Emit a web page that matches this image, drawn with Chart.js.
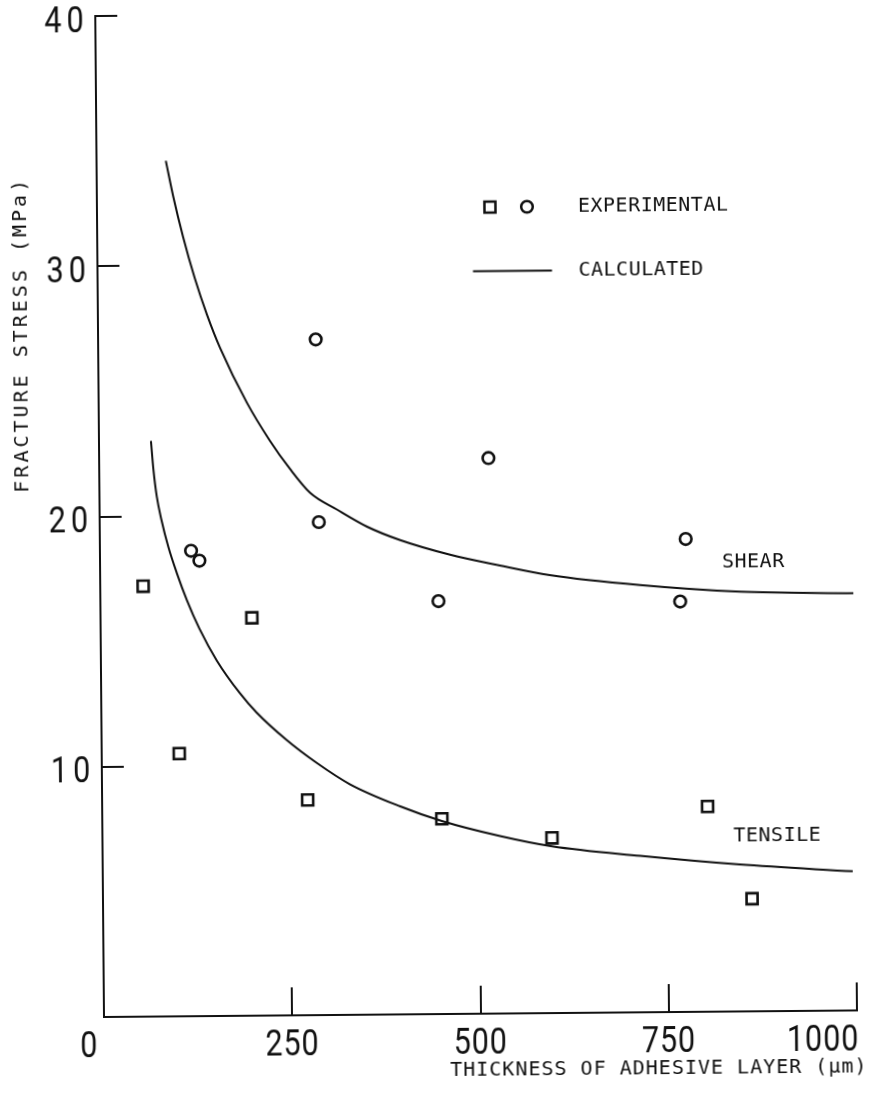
<!DOCTYPE html>
<html><head><meta charset="utf-8">
<script src="https://cdn.jsdelivr.net/npm/chart.js@4.4.1/dist/chart.umd.min.js"></script>
<style>
html,body{margin:0;padding:0;background:#fff;overflow:hidden}
#wrap{position:absolute;left:0;top:0;width:881px;height:1096px;transform-origin:104px 1017px;transform:rotate(-0.5deg);background:#fff}
</style></head><body>
<div id="wrap"><canvas id="c"></canvas></div>
<script>
// ---- data ----
const xTicks = [0, 250, 500, 750, 1000];
const yTicks = [10, 20, 30, 40];

const shearThickness = [121, 132, 289, 291, 449, 517, 770, 778];
const shearStress    = [18.6, 18.2, 27.0, 19.7, 16.5, 22.2, 16.4, 18.9];

const tensileThickness = [57, 103, 201, 273, 451, 597, 804, 862];
const tensileStress    = [17.2, 10.5, 15.9, 8.6, 7.8, 7.0, 8.2, 4.5];

const shearCalcThickness = [92, 101.5, 114, 129, 145, 162, 197, 227, 253, 280, 315, 355, 399, 465, 531, 597, 717, 850, 1000];
const shearCalcStress    = [34.19, 32.76, 31.15, 29.5, 28.02, 26.69, 24.49, 22.97, 21.85, 20.87, 20.2, 19.5, 18.95, 18.35, 17.9, 17.5, 17.07, 16.77, 16.67];

const tensileCalcThickness = [69, 72, 76, 82, 91, 102, 115, 131, 154, 184, 206, 246, 285, 329, 396, 451, 528, 597, 714, 846, 996];
const tensileCalcStress    = [23.0, 21.85, 20.8, 19.85, 18.75, 17.7, 16.62, 15.5, 14.2, 12.9, 12.12, 11.0, 10.09, 9.22, 8.31, 7.71, 7.09, 6.66, 6.25, 5.87, 5.56];

const xTitle = 'THICKNESS OF ADHESIVE LAYER (\u03bcm)';
const yTitle = 'FRACTURE STRESS (MPa)';
const legendLabels = ['EXPERIMENTAL', 'CALCULATED'];
const curveLabels = ['SHEAR', 'TENSILE'];

// ---- build ----
const pts = (xs, ys) => xs.map((x, i) => ({x, y: ys[i]}));
const INK = '#111';
const monoFont = '"DejaVu Sans Mono", monospace';
const numFont = '400 36px Roboto, "DejaVu Sans", sans-serif';

function drawNum(ctx, text, x, y, align) {
  ctx.save();
  ctx.translate(x, y);
  ctx.scale(0.85, 1);
  ctx.textAlign = align;
  ctx.fillText(text, 0, 0);
  ctx.restore();
}

const overlay = {
  id: 'overlay',
  afterDraw(chart) {
    const ctx = chart.ctx, xs = chart.scales.x, ys = chart.scales.y;
    const ca = chart.chartArea;
    ctx.save();
    ctx.fillStyle = INK;
    ctx.strokeStyle = INK;
    // y tick labels
    ctx.font = numFont;
    ctx.textBaseline = 'alphabetic';
    ctx.letterSpacing = '6px';
    yTicks.forEach(v => drawNum(ctx, String(v), ca.left - 6.5, ys.getPixelForValue(v) + 15.5, 'right'));
    // x tick labels
    ctx.letterSpacing = '1px';
    xTicks.forEach((v, i) => {
      const px = xs.getPixelForValue(v);
      const by = ca.bottom + 40;
      if (i === 0) drawNum(ctx, String(v), px - 6, by, 'right');
      else if (i === xTicks.length - 1) drawNum(ctx, String(v), px + 2, by, 'right');
      else drawNum(ctx, String(v), px, by, 'center');
    });
    // axis titles
    ctx.font = '20px ' + monoFont;
    ctx.textBaseline = 'middle';
    ctx.letterSpacing = '1px';
    ctx.textAlign = 'right';
    ctx.fillText(xTitle, ca.right + 10, ca.bottom + 57);
    ctx.save();
    ctx.translate(28, 334);
    ctx.rotate(-Math.PI / 2);
    ctx.letterSpacing = '3px';
    ctx.textAlign = 'center';
    ctx.fillText(yTitle, 0, 0);
    ctx.restore();
    // legend
    ctx.letterSpacing = '0.5px';
    ctx.lineWidth = 2.5;
    ctx.strokeRect(497 - 5.5, 210.5 - 5.5, 11, 11);
    ctx.beginPath(); ctx.arc(534, 210.5, 5.8, 0, Math.PI * 2); ctx.stroke();
    ctx.textAlign = 'left';
    ctx.fillText(legendLabels[0], 585, 211);
    ctx.lineWidth = 2;
    ctx.beginPath(); ctx.moveTo(479.5, 274.5); ctx.lineTo(558.5, 274.5); ctx.stroke();
    ctx.fillText(legendLabels[1], 585, 274.5);
    // curve labels
    ctx.fillText(curveLabels[0], 726, 568);
    ctx.fillText(curveLabels[1], 735, 842);
    ctx.restore();
  }
};

new Chart(document.getElementById('c'), {
  type: 'scatter',
  data: {
    datasets: [
      { label: 'Shear (calculated)', data: pts(shearCalcThickness, shearCalcStress), showLine: true,
        borderColor: INK, borderWidth: 2, pointRadius: 0, cubicInterpolationMode: 'monotone', fill: false },
      { label: 'Tensile (calculated)', data: pts(tensileCalcThickness, tensileCalcStress), showLine: true,
        borderColor: INK, borderWidth: 2, pointRadius: 0, cubicInterpolationMode: 'monotone', fill: false },
      { label: 'Shear (experimental)', data: pts(shearThickness, shearStress), pointStyle: 'circle',
        pointRadius: 5.8, borderWidth: 2.6, borderColor: INK, backgroundColor: '#fff' },
      { label: 'Tensile (experimental)', data: pts(tensileThickness, tensileStress), pointStyle: 'rect',
        pointRadius: 7.8, borderWidth: 2.6, borderColor: INK, backgroundColor: '#fff' }
    ]
  },
  options: {
    responsive: true, maintainAspectRatio: false, animation: false,
    layout: { autoPadding: false, padding: { top: 16, right: 24, left: 0, bottom: 0 } },
    plugins: { legend: { display: false }, tooltip: { enabled: false } },
    scales: {
      x: {
        type: 'linear', min: 0, max: 1000,
        afterBuildTicks: s => { s.ticks = xTicks.map(v => ({ value: v })); },
        afterFit: s => { s.height = 79; },
        ticks: { display: false },
        grid: { display: true, drawOnChartArea: false, drawTicks: true, tickLength: -28, color: INK, lineWidth: 2 },
        border: { display: true, color: INK, width: 2 }
      },
      y: {
        type: 'linear', min: 0, max: 40,
        afterBuildTicks: s => { s.ticks = [0].concat(yTicks).map(v => ({ value: v })); },
        afterFit: s => { s.width = 104; },
        ticks: { display: false },
        grid: { display: true, drawOnChartArea: false, drawTicks: true, tickLength: -22, color: INK, lineWidth: 2 },
        border: { display: true, color: INK, width: 2 }
      }
    }
  },
  plugins: [overlay]
});
</script>
</body></html>
